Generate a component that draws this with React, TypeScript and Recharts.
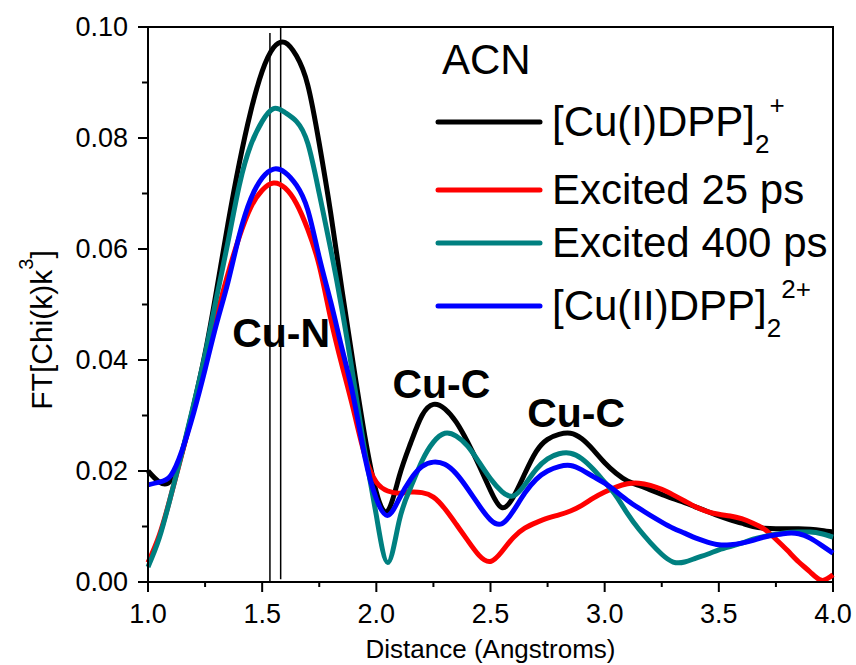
import {
  LineChart,
  Line,
  XAxis,
  YAxis,
  ReferenceLine,
  ReferenceArea,
  ReferenceDot,
  Legend,
} from 'recharts';

const FONT = '"Liberation Sans", Arial, sans-serif';

// R (Angstroms)
const distance = [
  1.0, 1.05, 1.1, 1.15, 1.2, 1.25, 1.3, 1.35, 1.4, 1.45, 1.5, 1.55, 1.6, 1.65, 1.7, 1.75,
  1.8, 1.85, 1.9, 1.95, 2.0, 2.05, 2.1, 2.15, 2.2, 2.25, 2.3, 2.35, 2.4, 2.45, 2.5, 2.55,
  2.6, 2.65, 2.7, 2.75, 2.8, 2.85, 2.9, 2.95, 3.0, 3.05, 3.1, 3.15, 3.2, 3.25, 3.3, 3.35,
  3.4, 3.45, 3.5, 3.55, 3.6, 3.65, 3.7, 3.75, 3.8, 3.85, 3.9, 3.95, 4.0,
];

const cu1Ground = [
  0.02, 0.018, 0.0183, 0.0235, 0.0318, 0.0412, 0.0525, 0.0645, 0.0755, 0.0848, 0.092, 0.0963,
  0.0972, 0.0948, 0.0895, 0.079, 0.0665, 0.0525, 0.039, 0.0262, 0.0162, 0.0128, 0.019, 0.025,
  0.03, 0.032, 0.0312, 0.0288, 0.0252, 0.021, 0.0165, 0.0134, 0.0153, 0.0195, 0.0235, 0.0257,
  0.0266, 0.0268, 0.0258, 0.0238, 0.0215, 0.0196, 0.0182, 0.0174, 0.0166, 0.0158, 0.015, 0.0143,
  0.0135, 0.0127, 0.0119, 0.0112, 0.0106, 0.01, 0.0097, 0.0096, 0.0096, 0.0096, 0.0095, 0.0093,
  0.009,
];

const excited25 = [
  0.0035, 0.0085, 0.0155, 0.0233, 0.0312, 0.0395, 0.0478, 0.0555, 0.0622, 0.0675, 0.0706, 0.0719,
  0.071, 0.0682, 0.0635, 0.057, 0.0475, 0.039, 0.031, 0.0228, 0.018, 0.0164, 0.016, 0.0162,
  0.0161, 0.0153, 0.0132, 0.0104, 0.0075, 0.0048, 0.0037, 0.0055, 0.008, 0.0097, 0.0107, 0.0115,
  0.0121, 0.0128, 0.0138, 0.0151, 0.0162, 0.0171, 0.0177, 0.0178, 0.0174, 0.0167, 0.0157, 0.0146,
  0.0135, 0.0127, 0.0122, 0.0119, 0.0114, 0.0106, 0.0095, 0.0077, 0.0057, 0.0036, 0.0018, 0.0003,
  0.0013,
];

const excited400 = [
  0.0027, 0.008, 0.0155, 0.0235, 0.032, 0.041, 0.0512, 0.0612, 0.0715, 0.0787, 0.083, 0.0853,
  0.0846, 0.083, 0.079, 0.07, 0.06, 0.049, 0.0365, 0.0235, 0.012, 0.0035, 0.011, 0.017,
  0.0218, 0.0252, 0.0268, 0.0263, 0.0245, 0.0216, 0.0186, 0.0163, 0.0155, 0.0175, 0.0203, 0.0222,
  0.0231, 0.0232, 0.0222, 0.0203, 0.018, 0.0155, 0.0123, 0.0095, 0.0071, 0.005, 0.0036, 0.0036,
  0.0043, 0.005, 0.0058, 0.0064, 0.007, 0.0077, 0.0082, 0.0086, 0.0089, 0.009, 0.009, 0.0087,
  0.0081,
];

const cu2Ground = [
  0.0175, 0.018, 0.0192, 0.0238, 0.0305, 0.0383, 0.0465, 0.054, 0.0625, 0.069, 0.0728, 0.0744,
  0.0738, 0.0715, 0.067, 0.0585, 0.0505, 0.042, 0.0333, 0.0225, 0.015, 0.012, 0.015, 0.0185,
  0.0208, 0.0216, 0.0212, 0.0195, 0.0168, 0.0138, 0.0112, 0.0105, 0.0128, 0.016, 0.0185, 0.02,
  0.0208, 0.021, 0.0202, 0.019, 0.0178, 0.0163, 0.0147, 0.0133, 0.012, 0.0108, 0.0097, 0.0088,
  0.0079, 0.0072, 0.0067, 0.0067, 0.007, 0.0075, 0.0081, 0.0085, 0.0088, 0.0087, 0.0079, 0.0066,
  0.0052,
];

const xTicks = [1, 1.25, 1.5, 1.75, 2, 2.25, 2.5, 2.75, 3, 3.25, 3.5, 3.75, 4];
const yTicks = [0, 0.01, 0.02, 0.03, 0.04, 0.05, 0.06, 0.07, 0.08, 0.09, 0.1];

// first-shell peak positions
const peakMarks = [1.534, 1.581];

const shellLabels = [
  { text: 'Cu-N', x: 1.583, y: 0.0423 },
  { text: 'Cu-C', x: 2.285, y: 0.0332 },
  { text: 'Cu-C', x: 2.875, y: 0.0279 },
];

const series = [
  { key: 'cu1', color: '#000000', main: '[Cu(I)DPP]', sub: '2', sup: '+' },
  { key: 'ex25', color: '#ff0000', main: 'Excited 25 ps', sub: '', sup: '' },
  { key: 'ex400', color: '#008080', main: 'Excited 400 ps', sub: '', sup: '' },
  { key: 'cu2', color: '#0000ff', main: '[Cu(II)DPP]', sub: '2', sup: '2+' },
];

const data = distance.map((r, i) => ({
  r,
  cu1: cu1Ground[i],
  ex25: excited25[i],
  ex400: excited400[i],
  cu2: cu2Ground[i],
}));

const isMajor = (v: number, step: number) => Math.abs(v / step - Math.round(v / step)) < 1e-6;

const XTick = ({ x, y, payload }: any) => {
  const major = isMajor(payload.value, 0.5);
  return (
    <g>
      <line x1={x} x2={x} y1={y} y2={y + (major ? 10 : 5)} stroke="#000" strokeWidth={2} />
      {major && (
        <text x={x} y={y + 41} textAnchor="middle" fontSize={27} fontFamily={FONT} fill="#000">
          {payload.value.toFixed(1)}
        </text>
      )}
    </g>
  );
};

const YTick = ({ x, y, payload }: any) => {
  const major = isMajor(payload.value, 0.02);
  return (
    <g>
      <line x1={x} x2={x - (major ? 10 : 6)} y1={y} y2={y} stroke="#000" strokeWidth={2} />
      {major && (
        <text x={x - 20} y={y + 9} textAnchor="end" fontSize={27} fontFamily={FONT} fill="#000">
          {payload.value.toFixed(2)}
        </text>
      )}
    </g>
  );
};

const LegendBox = () => {
  const rows = [122, 190, 243, 306];
  return (
    <svg
      width={856}
      height={665}
      style={{ position: 'absolute', left: 0, top: 0, overflow: 'visible', pointerEvents: 'none' }}
    >
      <text x={442} y={74} fontSize={42} fontFamily={FONT} fill="#000">
        ACN
      </text>
      {series.map((s, i) => (
        <g key={s.key}>
          <line x1={438} x2={540} y1={rows[i]} y2={rows[i]} stroke={s.color} strokeWidth={5} strokeLinecap="round" />
          <text x={552} y={rows[i] + 14} fontSize={42} fontFamily={FONT} fill="#000">
            {s.main}
            {s.sub && (
              <tspan fontSize={26} dy={17}>
                {s.sub}
              </tspan>
            )}
            {s.sup && (
              <tspan fontSize={26} dy={-39}>
                {s.sup}
              </tspan>
            )}
          </text>
        </g>
      ))}
    </svg>
  );
};

const ShellLabel = ({ viewBox, value }: any) => (
  <text
    x={viewBox.x + viewBox.width / 2}
    y={viewBox.y + viewBox.height / 2}
    textAnchor="middle"
    fontSize={41}
    fontWeight="bold"
    fontFamily={FONT}
    fill="#000"
  >
    {value}
  </text>
);

export default function App() {
  return (
    <div style={{ position: 'absolute', left: 0, top: 0, width: 856, height: 665, fontFamily: FONT }}>
      <LineChart width={856} height={665} data={data} margin={{ top: 27, right: 23, left: 0, bottom: 0 }}>
        <XAxis
          dataKey="r"
          type="number"
          domain={[1, 4]}
          ticks={xTicks}
          interval={0}
          tickSize={0}
          tickMargin={0}
          tick={<XTick />}
          axisLine={{ stroke: '#000', strokeWidth: 2 }}
          height={83}
          label={{
            content: ({ viewBox }: any) => (
              <text
                x={viewBox.x + viewBox.width / 2}
                y={viewBox.y + 76}
                textAnchor="middle"
                fontSize={26}
                fontFamily={FONT}
                fill="#000"
              >
                Distance (Angstroms)
              </text>
            ),
          }}
        />
        <YAxis
          type="number"
          domain={[0, 0.1]}
          ticks={yTicks}
          interval={0}
          tickSize={0}
          tickMargin={0}
          tick={<YTick />}
          axisLine={{ stroke: '#000', strokeWidth: 2 }}
          width={148}
          label={{
            content: () => (
              <text
                transform="rotate(-90)"
                x={-330}
                y={52}
                textAnchor="middle"
                fontSize={30}
                fontFamily={FONT}
                fill="#000"
              >
                FT[Chi(k)k
                <tspan fontSize={20} dy={-19}>
                  3
                </tspan>
                <tspan dy={19}>]</tspan>
              </text>
            ),
          }}
        />
        <ReferenceArea x1={1} x2={4} y1={0} y2={0.1} fill="none" stroke="#000" strokeWidth={2} ifOverflow="visible" />
        <ReferenceLine
          segment={[
            { x: peakMarks[0], y: 0.0989 },
            { x: peakMarks[0], y: -0.0002 },
          ]}
          stroke="#000"
          strokeWidth={1.5}
          ifOverflow="visible"
        />
        <ReferenceLine
          segment={[
            { x: peakMarks[1], y: 0.1 },
            { x: peakMarks[1], y: 0.0005 },
          ]}
          stroke="#000"
          strokeWidth={1.5}
          ifOverflow="visible"
        />
        {series.map((s) => (
          <Line
            key={s.key}
            dataKey={s.key}
            name={s.main}
            type="natural"
            stroke={s.color}
            strokeWidth={5}
            dot={false}
            activeDot={false}
            isAnimationActive={false}
          />
        ))}
        {shellLabels.map((l, i) => (
          <ReferenceDot
            key={i}
            x={l.x}
            y={l.y}
            r={0}
            fill="none"
            stroke="none"
            ifOverflow="visible"
            label={{ value: l.text, content: <ShellLabel /> }}
          />
        ))}
        <Legend
          verticalAlign="top"
          content={<LegendBox />}
          wrapperStyle={{ position: 'absolute', left: 0, top: 0, width: 0, height: 0, overflow: 'visible' }}
        />
      </LineChart>
    </div>
  );
}
